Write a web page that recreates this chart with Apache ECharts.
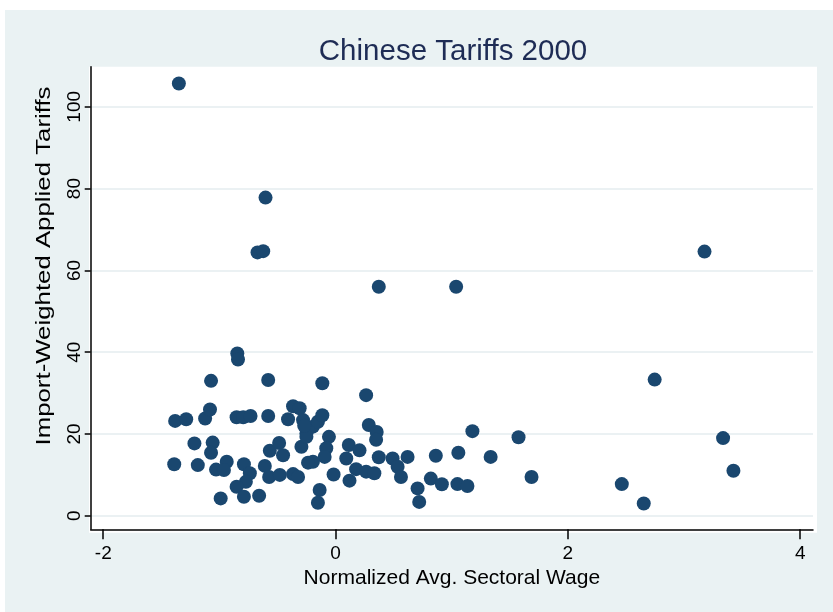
<!DOCTYPE html>
<html>
<head>
<meta charset="utf-8">
<script src="https://cdn.jsdelivr.net/npm/echarts@6/dist/echarts.min.js"></script>
<style>
  html, body { margin: 0; padding: 0; background: #ffffff; }
  #chart { width: 833px; height: 612px; }
</style>
</head>
<body>
<div id="chart"></div>
<script>
// Normalized average sectoral wage (x) and import-weighted applied tariffs (y)
const wage = [
  -1.349, -0.603, -0.672, -0.623, 0.372, 1.038, 3.176, 2.747, 1.575, 1.687, 2.464, 2.653, 3.336, 3.425,
  -0.846, -0.840, -1.072, -0.580, -0.114, -1.381, -1.286, -1.123, -1.081, -0.852, -0.795, -0.732, -0.580,
  -1.215, -1.058, -1.072, -1.389, -1.186, -1.029, -0.937, -0.961, -0.989, -0.789, -0.738, -0.772, -0.852,
  -0.789, -0.658, -0.609, -0.572, -0.480, -0.366, -0.323, -0.566, -0.486, -0.452, -0.294, -0.409, -0.366,
  -0.309, -0.280, -0.251, -0.195, -0.152, -0.114, -0.251, -0.270, -0.057, -0.080, -0.094, -0.195, -0.237,
  -0.017, -0.137, -0.152, 0.114, 0.206, 0.092, 0.120, 0.263, 0.286, 0.354, 0.349, 0.372, 0.177, 0.263,
  0.334, 0.491, 0.620, 0.534, 0.563, 0.706, 0.720, 0.863, 1.057, 1.178, 1.335, 0.820, 0.915, 1.049, 1.135
];
const tariff = [
  105.7, 77.8, 64.4, 64.7, 56.0, 56.0, 64.6, 33.3, 19.2, 9.5, 7.75, 3.0, 19.0, 11.0,
  39.7, 38.2, 33.0, 33.2, 32.4, 23.2, 23.6, 23.8, 26.0, 24.1, 24.1, 24.4, 24.4,
  17.7, 17.9, 15.4, 12.6, 12.4, 11.3, 13.2, 11.2, 4.25, 12.6, 10.4, 8.3, 7.1,
  4.65, 4.9, 12.2, 9.5, 10.0, 10.2, 9.5, 15.9, 17.8, 14.8, 16.9, 23.6, 26.8,
  26.3, 23.4, 20.1, 21.8, 23.0, 24.6, 19.3, 22.0, 19.3, 16.5, 14.4, 13.2, 13.0,
  10.1, 6.3, 3.2, 17.3, 16.0, 14.0, 8.6, 29.5, 22.2, 20.5, 18.6, 14.3, 11.4, 10.8,
  10.4, 14.0, 14.4, 12.0, 9.5, 6.7, 3.4, 14.7, 15.4, 20.7, 14.4, 9.1, 7.7, 7.75, 7.3
];
const xTicks = [-2, 0, 2, 4];
const yTicks = [0, 20, 40, 60, 80, 100];
const titleText = 'Chinese Tariffs 2000';
const xName = 'Normalized Avg. Sectoral Wage';
const yName = 'Import-Weighted Applied Tariffs';

const points = wage.map((w, i) => [w, tariff[i]]);
const FONT = '"Liberation Sans", Arial, Helvetica, sans-serif';

const chart = echarts.init(document.getElementById('chart'), null, { renderer: 'canvas' });
chart.setOption({
  animation: false,
  backgroundColor: '#ffffff',
  graphic: [
    { type: 'rect', z: -100, silent: true, shape: { x: 5, y: 10, width: 828, height: 602 }, style: { fill: '#EAF2F3' } },
    { type: 'rect', z: -99, silent: true, shape: { x: 89, y: 66.7, width: 728, height: 466 }, style: { fill: '#ffffff' } },
    {
      type: 'text', silent: true, x: 44, y: 266, rotation: Math.PI / 2, scaleX: 1.29,
      style: { text: yName, font: '20px ' + FONT, fill: '#000', textAlign: 'center', textVerticalAlign: 'middle' }
    }
  ],
  title: {
    text: titleText,
    left: 448,
    top: 32,
    textAlign: 'center',
    textStyle: { fontFamily: FONT, fontSize: 29.5, fontWeight: 'normal', color: '#1E2C55' }
  },
  grid: { left: 90.7, right: 20, top: 66.7, bottom: 82.7 },
  xAxis: {
    type: 'value',
    min: -2.108,
    max: 4.11,
    name: xName,
    nameLocation: 'middle',
    nameGap: 37,
    nameTextStyle: { fontFamily: FONT, fontSize: 21, color: '#000' },
    axisLine: { show: true, onZero: false, lineStyle: { color: '#000', width: 1.5 } },
    axisTick: { show: true, length: 10, customValues: xTicks, lineStyle: { color: '#000', width: 1.5 } },
    axisLabel: { customValues: xTicks, margin: 15, fontFamily: FONT, fontSize: 19, color: '#000' },
    splitLine: { show: false }
  },
  yAxis: {
    type: 'value',
    min: -3.3,
    max: 109.8,
    axisLine: { show: true, onZero: false, lineStyle: { color: '#000', width: 1.5 } },
    axisTick: { show: true, length: 6, customValues: yTicks, lineStyle: { color: '#000', width: 1.5 } },
    axisLabel: { customValues: yTicks, rotate: 90, margin: 6, fontFamily: FONT, fontSize: 19, color: '#000' },
    splitLine: { show: true, lineStyle: { color: '#E4ECEF', width: 1.5 } }
  },
  series: [{
    type: 'scatter',
    data: points,
    symbol: 'circle',
    symbolSize: 14,
    itemStyle: { color: '#1A476F', opacity: 1 }
  }]
});
</script>
</body>
</html>
